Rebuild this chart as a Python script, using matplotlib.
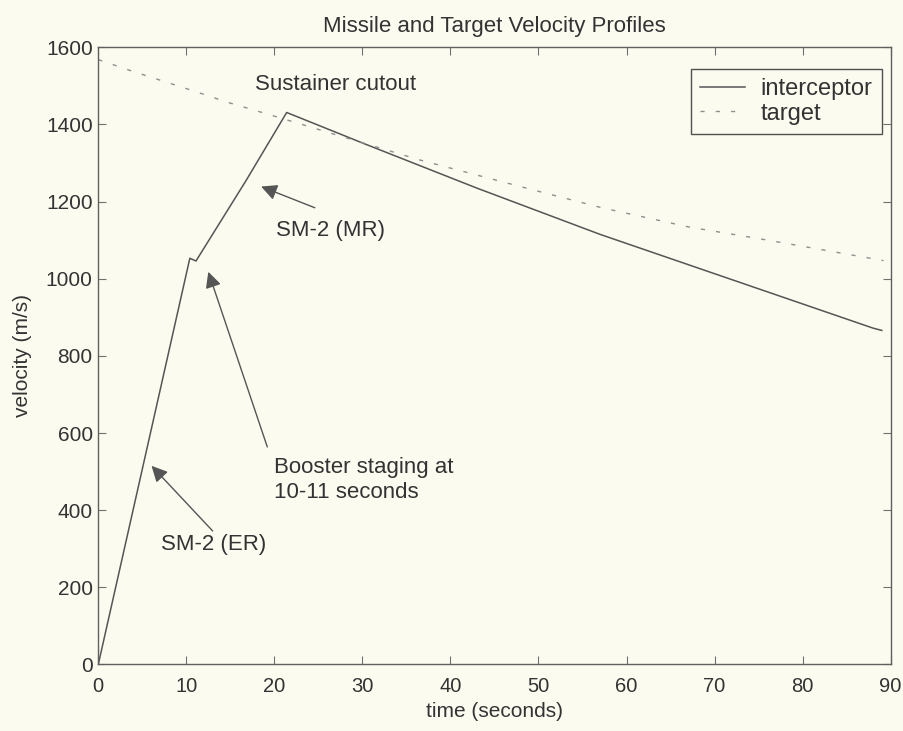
import matplotlib
matplotlib.use("Agg")
import matplotlib.pyplot as plt

# Values
INTERCEPTOR_T = [0, 10.4, 11.1, 16.8, 21.4, 30.0, 43.0, 57.0, 88.0, 89.0]
INTERCEPTOR_V = [0, 1053, 1046, 1255, 1431, 1352, 1235, 1115, 872, 866]
TARGET_T = [0, 4.0, 10.4, 14.9, 19.5, 28.2, 36.5, 43.3, 48.6, 57.2, 67.1, 75.8, 89.2]
TARGET_V = [1568, 1537, 1490, 1456, 1425, 1365, 1308, 1267, 1235, 1184, 1134, 1101, 1047]
X_TICKS = list(range(0, 91, 10))
Y_TICKS = list(range(0, 1601, 200))

BG = "#fcfbf0"
TXT = "#333333"
plt.rcParams["font.family"] = ["Liberation Sans", "DejaVu Sans"]

fig = plt.figure(figsize=(9.04, 7.31), dpi=100, facecolor=BG)
ax = fig.add_axes([0.1087, 0.091, 0.8765, 0.8443], facecolor=BG)

ax.plot(INTERCEPTOR_T, INTERCEPTOR_V, color="#555555", lw=1.1, label="interceptor")
ax.plot(TARGET_T, TARGET_V, color="#8f8f8f", lw=1.0, linestyle=(0, (3, 8)), label="target")

ax.set_xlim(0, 90)
ax.set_ylim(0, 1600)
ax.set_xticks(X_TICKS)
ax.set_yticks(Y_TICKS)
ax.tick_params(direction="in", top=True, right=True, length=6, color="#707070",
               labelsize=15, labelcolor=TXT)
ax.tick_params(axis="x", pad=9, labelsize=14.5)
ax.tick_params(axis="y", pad=4)
for s in ax.spines.values():
    s.set_color("#606060")
    s.set_linewidth(1.0)

ax.set_title("Missile and Target Velocity Profiles", fontsize=16, color=TXT, pad=11)
ax.set_xlabel("time (seconds)", fontsize=15, color=TXT, labelpad=4)
ax.set_ylabel("velocity (m/s)", fontsize=15, color=TXT, labelpad=10)

leg = ax.legend(loc="upper right", bbox_to_anchor=(0.989, 0.965), borderaxespad=0,
                fontsize=17, fancybox=False, framealpha=1, facecolor=BG,
                edgecolor="#505050", handlelength=1.9, handletextpad=0.65,
                borderpad=0.4, labelspacing=0.1)
leg.get_frame().set_linewidth(1.0)
for t in leg.get_texts():
    t.set_color(TXT)

arrow = dict(arrowstyle="-|>", color="#555555", lw=1.0, mutation_scale=24,
             shrinkA=0, shrinkB=0)
ax.text(17.8, 1503, "Sustainer cutout", fontsize=16, color=TXT, va="center")
ax.annotate("", xy=(18.5, 1239), xytext=(24.6, 1184), arrowprops=arrow)
ax.text(20.2, 1124, "SM-2 (MR)", fontsize=16, color=TXT, va="center")
ax.annotate("", xy=(12.5, 1018), xytext=(19.2, 564), arrowprops=arrow)
ax.text(20.0, 478, "Booster staging at\n10-11 seconds", fontsize=16, color=TXT,
        va="center", linespacing=1.25)
ax.annotate("", xy=(6.05, 515), xytext=(13.0, 346), arrowprops=arrow)
ax.text(7.1, 312, "SM-2 (ER)", fontsize=16, color=TXT, va="center")

fig.savefig("out.png", dpi=100, facecolor=BG)
